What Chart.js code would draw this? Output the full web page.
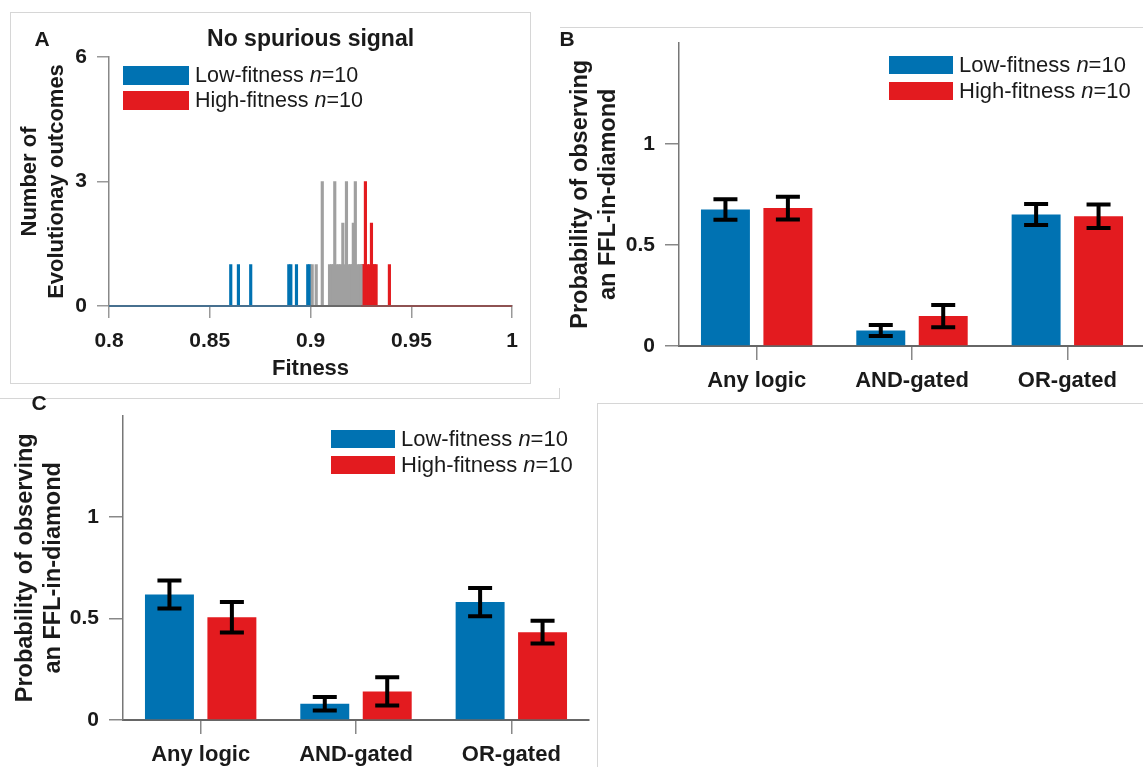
<!DOCTYPE html>
<html lang="en">
<head>
    <meta charset="UTF-8">
    <title>FFL-in-diamond by fitness</title>
    <script src="https://cdn.jsdelivr.net/npm/chart.js"></script>
    <style>
        body {
            margin: 0;
            width: 1143px;
            height: 767px;
            overflow: hidden;
            position: relative;
            background: #fff;
        }
        canvas { position: absolute; }
        .rule { position: absolute; background: #d6d6d6; }
        #boxA {
            position: absolute;
            left: 10px; top: 12px;
            width: 519px; height: 370px;
            border: 1px solid #d6d6d6;
        }
    </style>
</head>
<body>
    <div id="boxA"></div>
    <div class="rule" style="left:560px;top:27px;width:583px;height:1px"></div>
    <div class="rule" style="left:0;top:398px;width:559px;height:1px"></div>
    <div class="rule" style="left:559px;top:388px;width:1px;height:11px"></div>
    <div class="rule" style="left:597px;top:403px;width:546px;height:1px"></div>
    <div class="rule" style="left:597px;top:403px;width:1px;height:364px"></div>

    <canvas id="chartA" width="518" height="368" style="left:11px;top:14px"></canvas>
    <canvas id="chartB" width="587" height="385" style="left:560px;top:20px"></canvas>
    <canvas id="chartC" width="597" height="374" style="left:0;top:393px"></canvas>

    <script>
        const FONT = '"Liberation Sans", Arial, sans-serif';
        const BLUE = '#0072b2';
        const RED = '#e31b1f';
        const GRAY = '#a0a0a0';
        const INK = '#1a1a1a';

        // ---- panel A: fitness of evolutionary outcomes ----
        const fitnessTicks = [0.8, 0.85, 0.9, 0.95, 1];
        const countTicks = [0, 3, 6];
        const lowFitness = [0.8604, 0.8642, 0.8703, 0.8892, 0.8902, 0.8930, 0.8986, 0.8996];
        const lowCount = [1, 1, 1, 1, 1, 1, 1, 1];
        const midFitness = [0.9008, 0.9028, 0.9058, 0.9094, 0.9104, 0.9112, 0.9120, 0.9130, 0.9140, 0.9150,
                            0.9160, 0.9170, 0.9178, 0.9188, 0.9198, 0.9206, 0.9212, 0.9222, 0.9232, 0.9242, 0.9250];
        const midCount = [1, 1, 3, 1, 1, 1, 3, 1, 1, 1, 2, 1, 3, 1, 1, 1, 2, 3, 1, 1, 1];
        const highFitness = [0.9258, 0.9264, 0.9272, 0.9282, 0.9292, 0.9302, 0.9310, 0.9318, 0.9325, 0.9391];
        const highCount = [1, 1, 3, 1, 1, 2, 1, 1, 1, 1];
        const lowBase = [0.8, 0.9];
        const midBase = [0.9, 0.925];
        const highBase = [0.925, 1];

        // ---- panels B and C: probability of an FFL-in-diamond ----
        const categories = ['Any logic', 'AND-gated', 'OR-gated'];
        const probTicks = [0, 0.5, 1];
        const seriesNames = ['Low-fitness', 'High-fitness'];
        const seriesN = [10, 10];
        const bLow = [0.675, 0.077, 0.650];
        const bLowErr = [0.051, 0.027, 0.052];
        const bHigh = [0.682, 0.148, 0.642];
        const bHighErr = [0.056, 0.055, 0.058];
        const cLow = [0.618, 0.080, 0.581];
        const cLowErr = [0.069, 0.033, 0.070];
        const cHigh = [0.506, 0.141, 0.433];
        const cHighErr = [0.075, 0.070, 0.056];

        const pts = (xs, ys) => xs.map((x, i) => ({ x: x, y: ys[i] }));
        const boldFont = size => ({ family: FONT, size: size, weight: 'bold' });

        // free text: panel letters and titles
        const panelText = {
            id: 'panelText',
            afterDraw(chart, args, opts) {
                const ctx = chart.ctx;
                ctx.save();
                ctx.fillStyle = INK;
                ctx.textBaseline = 'middle';
                ctx.textAlign = 'center';
                (opts.items || []).forEach(t => {
                    ctx.font = 'bold ' + t.size + 'px ' + FONT;
                    const x = t.x === 'center' ? (chart.chartArea.left + chart.chartArea.right) / 2 : t.x;
                    ctx.fillText(t.text, x, t.y);
                });
                ctx.restore();
            }
        };

        // legend with wide colour boxes and an italic n
        const boxLegend = {
            id: 'boxLegend',
            afterDraw(chart, args, o) {
                const ctx = chart.ctx;
                ctx.save();
                ctx.textBaseline = 'middle';
                ctx.textAlign = 'left';
                chart.data.datasets.filter(d => d.legend).forEach((ds, i) => {
                    const y = o.y + i * o.step;
                    ctx.fillStyle = ds.backgroundColor;
                    ctx.fillRect(o.x, y, o.w, o.h);
                    ctx.fillStyle = INK;
                    let tx = o.x + o.w + o.gap;
                    const cy = y + o.h / 2 + 1;
                    [[seriesNames[i] + ' ', ''], ['n', 'italic '], ['=' + seriesN[i], '']].forEach(p => {
                        ctx.font = p[1] + o.size + 'px ' + FONT;
                        ctx.fillText(p[0], tx, cy);
                        tx += ctx.measureText(p[0]).width;
                    });
                });
                ctx.restore();
            }
        };

        const errorBars = {
            id: 'errorBars',
            afterDatasetsDraw(chart, args, o) {
                const ctx = chart.ctx;
                const ys = chart.scales.y;
                ctx.save();
                ctx.strokeStyle = '#000';
                ctx.lineWidth = 4;
                chart.data.datasets.forEach((ds, di) => {
                    chart.getDatasetMeta(di).data.forEach((bar, i) => {
                        const top = ys.getPixelForValue(ds.data[i] + ds.errors[i]);
                        const bot = ys.getPixelForValue(ds.data[i] - ds.errors[i]);
                        ctx.beginPath();
                        ctx.moveTo(bar.x, top); ctx.lineTo(bar.x, bot);
                        ctx.moveTo(bar.x - o.cap / 2, top); ctx.lineTo(bar.x + o.cap / 2, top);
                        ctx.moveTo(bar.x - o.cap / 2, bot); ctx.lineTo(bar.x + o.cap / 2, bot);
                        ctx.stroke();
                    });
                });
                ctx.restore();
            }
        };

        const baseLine = (xs, color) => ({
            type: 'line', data: pts(xs, [0, 0]), borderColor: color, borderWidth: 2,
            pointRadius: 0, clip: false, order: -1
        });

        new Chart(document.getElementById('chartA'), {
            type: 'bar',
            data: {
                datasets: [
                    baseLine(lowBase, '#47708f'),
                    baseLine(midBase, '#6a6a6a'),
                    baseLine(highBase, '#8e5252'),
                    { data: pts(midFitness, midCount), backgroundColor: GRAY, legend: false },
                    { data: pts(lowFitness, lowCount), backgroundColor: BLUE, legend: true },
                    { data: pts(highFitness, highCount), backgroundColor: RED, legend: true }
                ]
            },
            options: {
                responsive: false,
                animation: false,
                devicePixelRatio: 1,
                datasets: { bar: { barThickness: 2.5, grouped: false } },
                layout: { padding: { left: 0, top: 43, right: 15, bottom: 0 } },
                plugins: {
                    legend: { display: false },
                    tooltip: { enabled: false },
                    boxLegend: { x: 112, y: 52, w: 66, h: 19, step: 25, gap: 6, size: 21.5 },
                    panelText: { items: [
                        { text: 'A', x: 31, y: 26, size: 21 },
                        { text: 'No spurious signal', x: 'center', y: 26, size: 23 }
                    ] }
                },
                scales: {
                    x: {
                        type: 'linear', min: 0.8, max: 1, offset: false,
                        afterBuildTicks: s => { s.ticks = fitnessTicks.map(v => ({ value: v })); },
                        grid: { offset: false, drawOnChartArea: false, tickLength: 12, color: '#999', lineWidth: 1.5 },
                        border: { color: '#777', width: 1.5 },
                        ticks: { color: INK, font: boldFont(21), padding: 11, maxRotation: 0, callback: v => String(v) },
                        title: { display: true, text: 'Fitness', color: INK, font: boldFont(22), padding: { top: 0, bottom: 0 } },
                        afterFit: s => { s.height = 76; }
                    },
                    y: {
                        min: 0, max: 6,
                        afterBuildTicks: s => { s.ticks = countTicks.map(v => ({ value: v })); },
                        grid: { drawOnChartArea: false, tickLength: 12, color: '#999', lineWidth: 1.5 },
                        border: { color: '#888', width: 1.5 },
                        ticks: { color: INK, font: boldFont(21), padding: 10, callback: v => String(v) },
                        title: {
                            display: true, text: ['Number of', 'Evolutionay outcomes'], color: INK,
                            font: { family: FONT, size: 22, weight: 'bold', lineHeight: 1.23 },
                            padding: { top: 5.5, bottom: 0 }
                        },
                        afterFit: s => { s.width = 98; }
                    }
                }
            },
            plugins: [boxLegend, panelText]
        });

        function probChart(id, low, lowErr, high, highErr, geo) {
            return new Chart(document.getElementById(id), {
                type: 'bar',
                data: {
                    labels: categories,
                    datasets: [
                        { data: low, errors: lowErr, backgroundColor: BLUE, legend: true,
                          categoryPercentage: 0.804, barPercentage: 0.784 },
                        { data: high, errors: highErr, backgroundColor: RED, legend: true,
                          categoryPercentage: 0.804, barPercentage: 0.784 }
                    ]
                },
                options: {
                    responsive: false,
                    animation: false,
                    devicePixelRatio: 1,
                    layout: { padding: { left: 0, top: geo.top, right: geo.right, bottom: 0 } },
                    plugins: {
                        legend: { display: false },
                        tooltip: { enabled: false },
                        boxLegend: { x: geo.lx, y: geo.ly, w: 64, h: 18, step: 26, gap: 6, size: 22 },
                        errorBars: { cap: 24 },
                        panelText: { items: [{ text: geo.letter, x: geo.letterX, y: geo.letterY, size: 21 }] }
                    },
                    scales: {
                        x: {
                            offset: true,
                            grid: { offset: false, drawOnChartArea: false, tickLength: 14, color: '#888', lineWidth: 1.5 },
                            border: { color: '#666', width: 2 },
                            ticks: { color: INK, font: boldFont(22), padding: 8, maxRotation: 0 },
                            afterFit: s => { s.height = geo.xh; }
                        },
                        y: {
                            min: 0, max: 1.5,
                            afterBuildTicks: s => { s.ticks = probTicks.map(v => ({ value: v })); },
                            grid: { drawOnChartArea: false, tickLength: 14, color: '#888', lineWidth: 1.5 },
                            border: { color: '#777', width: 1.5 },
                            ticks: { color: INK, font: boldFont(21), padding: 10, callback: v => String(v) },
                            title: {
                                display: true, text: ['Probability of observing', 'an FFL-in-diamond'], color: INK,
                                font: { family: FONT, size: 23.5, weight: 'bold', lineHeight: 1.2 },
                                padding: { top: geo.tp, bottom: 0 }
                            },
                            afterFit: s => { s.width = geo.yw; }
                        }
                    }
                },
                plugins: [boxLegend, errorBars, panelText]
            });
        }

        probChart('chartB', bLow, bLowErr, bHigh, bHighErr,
            { top: 15, right: 2, xh: 59, yw: 119, tp: 6, lx: 329, ly: 36, letter: 'B', letterX: 7, letterY: 20 });
        probChart('chartC', cLow, cLowErr, cHigh, cHighErr,
            { top: 15, right: 8, xh: 47, yw: 123, tp: 11, lx: 331, ly: 37, letter: 'C', letterX: 39, letterY: 11 });
    </script>
</body>
</html>
